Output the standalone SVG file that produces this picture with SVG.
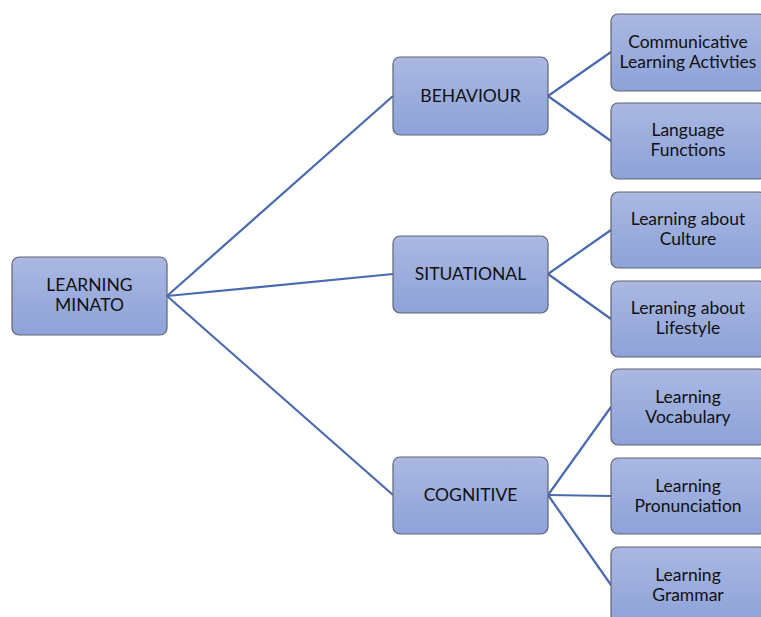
<svg xmlns="http://www.w3.org/2000/svg" width="761" height="617" viewBox="0 0 761 617">
<defs>
<linearGradient id="g" x1="0" y1="0" x2="0" y2="1">
<stop offset="0" stop-color="#aab8e2"/>
<stop offset="1" stop-color="#8da2d8"/>
</linearGradient>
<style>
.box{fill:url(#g);stroke:#5f6470;stroke-width:1.2}
.t{font-family:Lato,"Liberation Sans",sans-serif;font-size:17.5px;fill:#111;text-anchor:middle}
.c{stroke:#4a6aaf;stroke-width:2.2;fill:none}
</style>
</defs>
<rect width="761" height="617" fill="#fff"/>
<g id="connectors">
<line class="c" x1="167" y1="296" x2="393" y2="96"/>
<line class="c" x1="167" y1="296" x2="393" y2="274"/>
<line class="c" x1="167" y1="296" x2="393" y2="495"/>
<line class="c" x1="548" y1="96" x2="611" y2="52"/>
<line class="c" x1="548" y1="96" x2="611" y2="141"/>
<line class="c" x1="548" y1="274" x2="611" y2="230"/>
<line class="c" x1="548" y1="274" x2="611" y2="319"/>
<line class="c" x1="548" y1="495" x2="611" y2="407"/>
<line class="c" x1="548" y1="495" x2="611" y2="496"/>
<line class="c" x1="548" y1="495" x2="611" y2="585"/>
</g>
<g id="root"><rect class="box" x="12" y="257" width="155" height="78" rx="7"/><text class="t" x="89.5" y="291">LEARNING</text><text class="t" x="89.5" y="311">MINATO</text></g>
<g id="behaviour"><rect class="box" x="393" y="57" width="155" height="78" rx="7"/><text class="t" x="470.5" y="102">BEHAVIOUR</text></g>
<g id="situational"><rect class="box" x="393" y="236" width="155" height="77" rx="7"/><text class="t" x="470.5" y="280">SITUATIONAL</text></g>
<g id="cognitive"><rect class="box" x="393" y="457" width="155" height="77" rx="7"/><text class="t" x="470.5" y="501">COGNITIVE</text></g>
<g id="communicative"><rect class="box" x="611" y="14" width="155" height="77" rx="7"/><text class="t" x="688" y="48">Communicative</text><text class="t" x="688" y="68">Learning Activties</text></g>
<g id="language"><rect class="box" x="611" y="103" width="155" height="76" rx="7"/><text class="t" x="688" y="136">Language</text><text class="t" x="688" y="156">Functions</text></g>
<g id="culture"><rect class="box" x="611" y="192" width="155" height="76" rx="7"/><text class="t" x="688" y="225">Learning about</text><text class="t" x="688" y="245">Culture</text></g>
<g id="lifestyle"><rect class="box" x="611" y="281" width="155" height="76" rx="7"/><text class="t" x="688" y="314">Leraning about</text><text class="t" x="688" y="334">Lifestyle</text></g>
<g id="vocabulary"><rect class="box" x="611" y="369" width="155" height="76" rx="7"/><text class="t" x="688" y="403">Learning</text><text class="t" x="688" y="423">Vocabulary</text></g>
<g id="pronunciation"><rect class="box" x="611" y="458" width="155" height="76" rx="7"/><text class="t" x="688" y="492">Learning</text><text class="t" x="688" y="512">Pronunciation</text></g>
<g id="grammar"><rect class="box" x="611" y="547" width="155" height="76" rx="7"/><text class="t" x="688" y="581">Learning</text><text class="t" x="688" y="601">Grammar</text></g>
</svg>
